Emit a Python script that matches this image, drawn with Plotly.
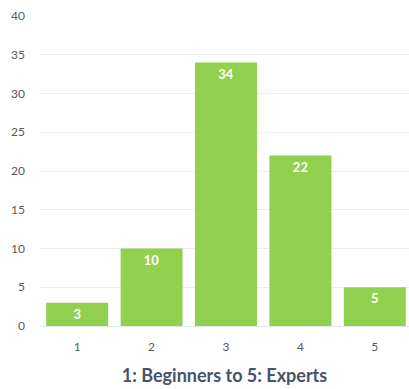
import plotly.graph_objects as go

categories = ["1", "2", "3", "4", "5"]
values = [3, 10, 34, 22, 5]
y_ticks = [0, 5, 10, 15, 20, 25, 30, 35, 40]
x_title = "1: Beginners to 5: Experts"

fig = go.Figure(go.Bar(
    x=categories, y=values,
    marker=dict(color="#92D050", line=dict(width=0)),
    text=[str(v) for v in values],
    textposition="inside", insidetextanchor="end",
    textfont=dict(family="Lato", size=13, color="white", weight="bold"),
    textangle=0,
))
fig.update_layout(
    width=409, height=389,
    margin=dict(l=40, r=0, t=16, b=63),
    paper_bgcolor="white", plot_bgcolor="white",
    bargap=0.167,
    showlegend=False,
    font=dict(family="Lato", color="#595959"),
    xaxis=dict(
        type="category",
        range=[-0.5, 4.46],
        tickfont=dict(size=12, color="#595959"),
        ticks="", showgrid=False, ticklabelstandoff=10,
        showline=True, linecolor="#E4E8EE", linewidth=1,
        title=dict(text=x_title, font=dict(size=18, color="#44546A", family="Lato", weight="bold"), standoff=15),
    ),
    yaxis=dict(
        range=[0, 40], tickvals=y_ticks,
        tickfont=dict(size=12, color="#595959"),
        gridcolor="#E9EDF2", gridwidth=1,
        zeroline=False, ticks="", ticklabelstandoff=14,
    ),
)
fig.write_html("out.html")
